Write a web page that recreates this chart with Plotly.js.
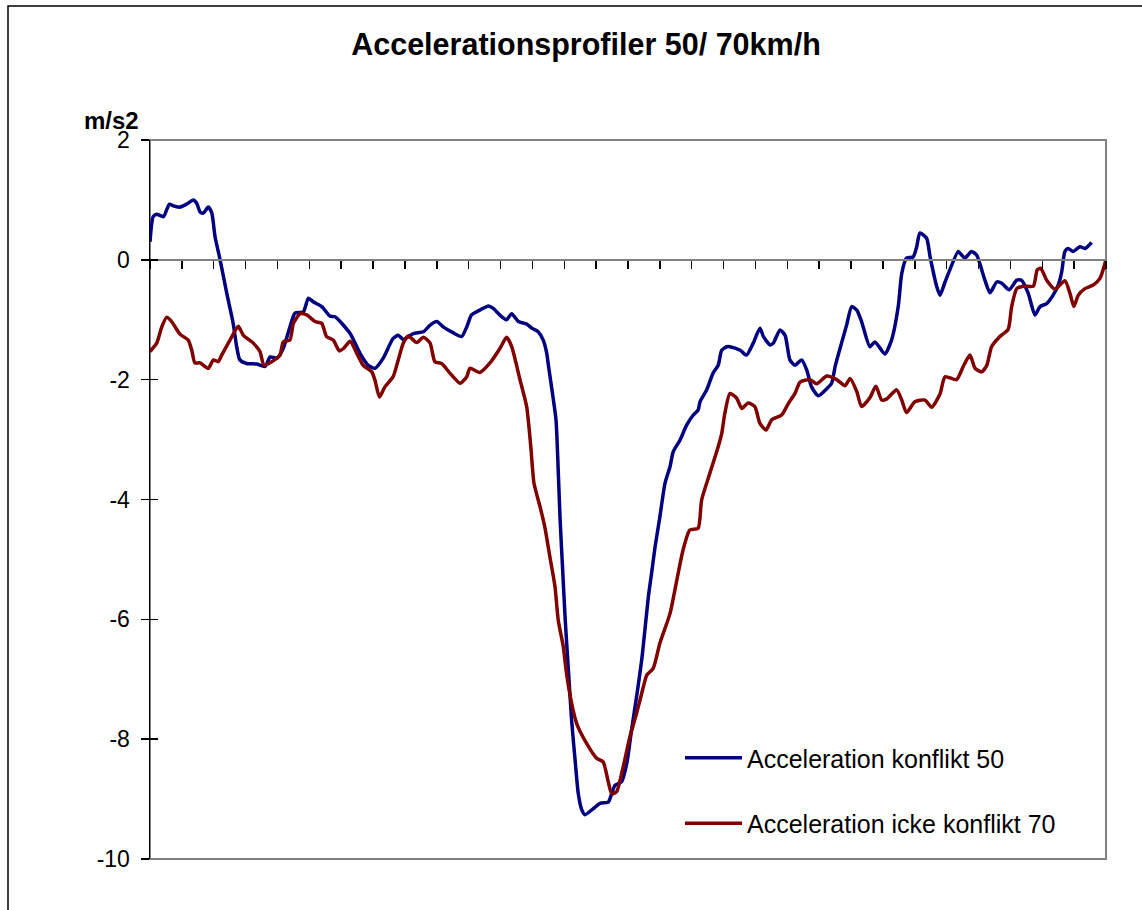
<!DOCTYPE html>
<html>
<head>
<meta charset="utf-8">
<script src="https://cdn.plot.ly/plotly-3.0.1.min.js"></script>
<style>html,body{margin:0;padding:0;background:#fff;}#chart{width:1142px;height:910px;}</style>
</head>
<body>
<div id="chart"></div>
<script>
// Sample index (tick every 10 samples) and acceleration values in m/s2
const blueX = [0,1.0,2.1,4.2,5.2,6.1,7.3,9.4,11.5,13.6,14.7,15.7,16.7,18.3,19.4,20.4,22.0,24.1,26.1,27.2,28.2,30.3,33.5,36.1,37.7,39.8,41.8,43.9,45.5,48.1,49.7,51.2,53.9,56.5,58.1,62.8,65.9,68.5,70.6,73.2,76.3,77.9,79.5,82.6,85.8,87.9,90.0,92.0,95.2,97.8,99.4,100.9,103.5,106.2,107.7,110.4,111.9,113.5,115.6,118.2,119.8,121.8,123.4,124.5,125.0,126.0,127.4,128.1,128.7,129.5,130.3,131.3,132.3,133.4,134.4,135.5,136.5,139.1,141.2,143.8,145.9,148.0,149.6,151.1,152.7,154.3,155.3,156.4,157.4,158.5,160.0,161.6,163.2,164.2,166.3,168.4,170.5,172.0,172.6,174.7,176.7,178.3,179.4,181.0,182.0,185.2,187.2,189.3,191.4,192.5,194.6,195.6,197.7,199.3,200.8,202.4,204.5,206.1,207.6,209.7,212.4,213.9,215.0,217.0,218.6,220.2,221.8,223.3,225.9,227.5,230.6,232.7,234.8,235.9,237.4,239.5,240.6,241.6,243.7,244.8,246.9,247.9,249.5,253.6,254.2,255.7,257.8,259.4,262.0,263.6,265.7,267.3,269.6,272.0,273.5,275.6,277.7,279.3,281.4,283.4,285.0,286.1,287.1,288.1,289.7,291.8,293.4,295.5];
const blueY = [0.30,0.72,0.76,0.72,0.83,0.93,0.90,0.88,0.93,1.00,0.94,0.80,0.78,0.88,0.78,0.39,0.00,-0.56,-1.06,-1.45,-1.67,-1.73,-1.74,-1.78,-1.62,-1.64,-1.48,-1.12,-0.89,-0.87,-0.64,-0.70,-0.78,-0.94,-0.95,-1.23,-1.56,-1.76,-1.81,-1.64,-1.31,-1.26,-1.33,-1.23,-1.20,-1.09,-1.03,-1.12,-1.22,-1.28,-1.12,-0.92,-0.84,-0.77,-0.81,-0.95,-1.00,-0.90,-1.03,-1.07,-1.14,-1.20,-1.34,-1.56,-1.75,-2.12,-2.67,-3.51,-4.34,-5.18,-6.01,-6.85,-7.68,-8.35,-8.91,-9.18,-9.26,-9.16,-9.07,-9.05,-8.77,-8.71,-8.41,-7.85,-7.29,-6.68,-6.18,-5.62,-5.23,-4.79,-4.29,-3.73,-3.45,-3.20,-3.01,-2.76,-2.59,-2.51,-2.37,-2.17,-1.89,-1.76,-1.51,-1.45,-1.45,-1.51,-1.59,-1.39,-1.14,-1.28,-1.42,-1.39,-1.17,-1.26,-1.67,-1.76,-1.67,-1.84,-2.12,-2.27,-2.15,-2.06,-1.78,-1.39,-1.09,-0.78,-0.84,-1.03,-1.45,-1.37,-1.57,-1.34,-0.78,-0.23,0.03,0.05,0.22,0.45,0.36,0.05,-0.45,-0.59,-0.37,0.14,0.11,0.03,0.14,0.08,-0.34,-0.55,-0.37,-0.39,-0.50,-0.34,-0.34,-0.56,-0.92,-0.78,-0.73,-0.59,-0.42,-0.20,0.14,0.19,0.14,0.22,0.19,0.29];

const redX = [0,2.1,3.7,5.2,6.8,9.4,12.0,13.1,14.1,15.7,18.3,19.9,21.4,22.5,25.1,27.7,29.3,32.4,34.5,35.8,38.2,40.8,41.8,43.9,45.0,47.1,49.2,51.8,53.9,55.4,57.5,59.4,60.7,62.8,64.9,66.9,69.6,70.6,72.0,73.7,76.3,77.9,79.5,81.0,83.7,85.8,87.9,89.4,91.5,94.1,97.3,99.4,100.4,103.5,106.7,109.8,111.9,113.5,116.1,118.2,119.5,120.5,122.4,123.9,125.5,127.1,128.1,129.7,130.7,132.3,133.9,137.0,140.2,142.2,143.8,144.9,146.4,148.5,150.6,152.7,154.8,155.9,157.9,160.0,163.2,165.3,167.3,169.4,172.0,173.1,175.7,178.3,179.4,180.4,182.0,184.1,185.7,187.7,189.8,191.4,193.3,195.1,198.2,200.3,202.4,204.0,207.1,209.2,212.4,215.5,218.1,219.7,221.8,223.3,225.9,227.8,229.6,231.2,234.3,235.9,237.4,240.0,243.2,245.3,247.9,249.5,253.1,255.2,257.3,258.9,261.0,262.6,264.1,266.7,269.3,270.4,272.0,274.1,277.2,278.4,279.5,281.4,284.0,287.1,288.7,289.9,291.3,293.4,296.0,298.1,300.0];
const redY = [-1.53,-1.39,-1.12,-0.96,-1.03,-1.24,-1.34,-1.51,-1.72,-1.72,-1.81,-1.67,-1.70,-1.59,-1.34,-1.11,-1.26,-1.39,-1.53,-1.76,-1.70,-1.59,-1.37,-1.34,-1.06,-0.90,-0.92,-1.03,-1.06,-1.28,-1.34,-1.52,-1.48,-1.36,-1.56,-1.76,-1.87,-2.01,-2.29,-2.12,-1.95,-1.67,-1.39,-1.27,-1.38,-1.29,-1.39,-1.70,-1.73,-1.89,-2.06,-1.95,-1.81,-1.88,-1.72,-1.48,-1.29,-1.45,-2.00,-2.45,-3.12,-3.73,-4.12,-4.46,-4.96,-5.46,-6.01,-6.46,-6.90,-7.40,-7.74,-8.07,-8.32,-8.38,-8.71,-8.91,-8.88,-8.46,-7.96,-7.57,-7.13,-6.93,-6.82,-6.40,-5.90,-5.35,-4.84,-4.51,-4.48,-4.01,-3.56,-3.12,-2.90,-2.56,-2.23,-2.31,-2.48,-2.39,-2.45,-2.73,-2.84,-2.67,-2.59,-2.40,-2.23,-2.04,-2.00,-2.07,-1.94,-2.00,-2.10,-1.98,-2.20,-2.45,-2.30,-2.11,-2.34,-2.32,-2.17,-2.34,-2.55,-2.37,-2.34,-2.46,-2.24,-1.95,-2.00,-1.78,-1.59,-1.81,-1.87,-1.76,-1.45,-1.28,-1.16,-0.78,-0.48,-0.44,-0.44,-0.17,-0.14,-0.34,-0.49,-0.35,-0.56,-0.78,-0.59,-0.48,-0.42,-0.31,0.00];

const seriesNames = ['Acceleration konflikt 50', 'Acceleration icke konflikt 70'];
const yTicks = [2, 0, -2, -4, -6, -8, -10];

const FONT = 'Liberation Sans, Arial, sans-serif';

const traces = [
  {x: blueX, y: blueY, name: seriesNames[0], type: 'scatter', mode: 'lines',
   line: {color: '#000080', width: 3.5, shape: 'spline', smoothing: 0.6}, legendgroup: 'a'},
  {x: redX, y: redY, name: seriesNames[1], type: 'scatter', mode: 'lines',
   line: {color: '#800000', width: 3.5, shape: 'spline', smoothing: 0.6}, legendgroup: 'b'},
  {x: [0], y: [0], yaxis: 'y2', type: 'scatter', mode: 'none', showlegend: false, hoverinfo: 'skip'}
];

const layout = {
  width: 1142, height: 910,
  margin: {l: 150, r: 36, t: 140, b: 51},
  paper_bgcolor: '#ffffff', plot_bgcolor: '#ffffff',
  font: {family: FONT, color: '#000'},
  showlegend: true,
  title: {text: 'Accelerationsprofiler 50/ 70km/h', font: {family: FONT, size: 30.5, weight: 'bold', color: '#000'},
          x: 586/1142, xref: 'container', xanchor: 'center', y: 1 - 44/910, yref: 'container', yanchor: 'middle'},
  xaxis: {range: [0, 300], anchor: 'free', position: 10/12, showline: true, linecolor: '#808080', linewidth: 2,
          ticks: 'outside', ticklen: 8, tickwidth: 1.5, tickcolor: '#000', tick0: 0, dtick: 10,
          showticklabels: false, showgrid: false, zeroline: false, fixedrange: true},
  yaxis: {range: [-10, 2], tickvals: yTicks, ticktext: yTicks.map(String), ticks: 'outside', ticklen: 8, tickwidth: 1.5,
          tickcolor: '#000', showline: true, linecolor: '#000', linewidth: 1.5, showgrid: false, zeroline: false,
          ticklabelstandoff: 6,
          tickfont: {family: FONT, size: 23, color: '#000'}, fixedrange: true},
  yaxis2: {range: [-10, 2], overlaying: 'y', side: 'left', anchor: 'x', tickvals: yTicks, ticks: 'inside', ticklen: 8,
           tickwidth: 1.5, tickcolor: '#000', showticklabels: false, showline: false, showgrid: false, zeroline: false},
  legend: {x: (680-150)/956, xanchor: 'left', y: (859-735)/719, yanchor: 'top', bgcolor: 'rgba(0,0,0,0)',
           borderwidth: 0, font: {family: FONT, size: 25, color: '#000'}, itemwidth: 57,
           traceorder: 'grouped', tracegroupgap: 30},
  shapes: [
    {type: 'rect', xref: 'paper', yref: 'paper', x0: 0, x1: 1, y0: 0, y1: 1, line: {color: '#808080', width: 2}, layer: 'below'},
    {type: 'rect', xref: 'paper', yref: 'paper', x0: (8-150)/956, x1: 1.2, y0: -0.3, y1: (859-6)/719, line: {color: '#000', width: 1.5}, layer: 'below'}
  ],
  annotations: [
    {text: 'm/s2', xref: 'paper', yref: 'paper', x: (82-150)/956, xanchor: 'left', y: (859-121)/719, yanchor: 'middle',
     showarrow: false, font: {family: FONT, size: 24, weight: 'bold', color: '#000'}}
  ]
};

Plotly.newPlot('chart', traces, layout, {displayModeBar: false, staticPlot: true});
</script>
</body>
</html>
